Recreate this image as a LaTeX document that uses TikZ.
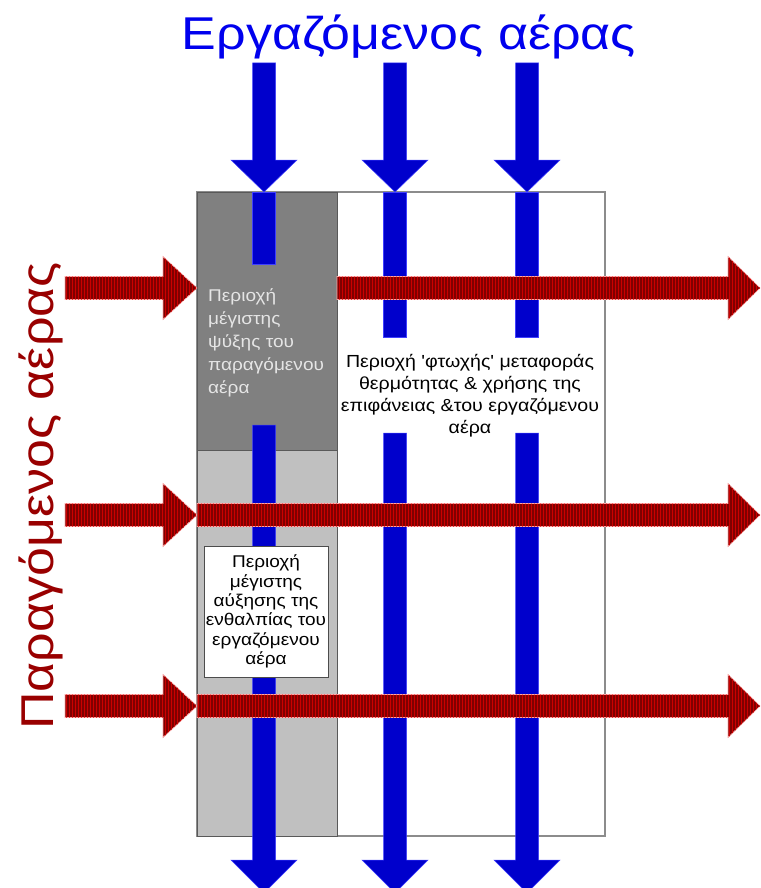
\documentclass[tikz,border=0pt]{standalone}
\usepackage{fontspec}
\setmainfont{Liberation Sans}
\newfontfamily\widesans[FakeStretch=1.12]{Liberation Sans}
\newfontfamily\titlesans[FakeStretch=1.13]{Liberation Sans}
\usetikzlibrary{patterns}
\font\rawarial="Liberation Sans:extend=1.12" at 17.5pt
\definecolor{ablue}{HTML}{0000CC}
\definecolor{tblue}{HTML}{0000EE}
\definecolor{ared}{HTML}{800000}
\definecolor{tred}{HTML}{990000}
\definecolor{dgrey}{HTML}{808080}
\definecolor{lgrey}{HTML}{C0C0C0}
\tikzset{
  bluearrow/.style={fill=ablue, draw=blue!75, line width=0.5pt},
  redarrow/.style={fill=ared, draw=red!35, line width=0.6pt,
    postaction={pattern=vertical lines, pattern color=red!80!black}},
  regionbox/.style={draw=black!65, line width=0.8pt},
  bigtitle/.style={font=\titlesans\fontsize{46}{50}\selectfont, inner sep=0pt},
  smalltext/.style={inner sep=0pt},
}
\newcommand\vArrowShape[4]{%
  \path[bluearrow] ({#1-11.5},#2) -- ({#1+11.5},#2) -- ({#1+11.5},#3) -- ({#1+33},#3)
    -- (#1,#4) -- ({#1-33},#3) -- ({#1-11.5},#3) -- cycle;}
\newcommand\vShaft[3]{%
  \path[bluearrow] ({#1-11.5},#2) rectangle ({#1+11.5},#3);}
\newcommand\hArrowShape[4]{%
  \path[redarrow] (#2,{#1-11.5}) -- (#3,{#1-11.5}) -- (#3,{#1-31.5}) -- (#4,#1)
    -- (#3,{#1+31.5}) -- (#3,{#1+11.5}) -- (#2,{#1+11.5}) -- cycle;}
\begin{document}
\begin{tikzpicture}[x=1pt,y=-1pt]
\useasboundingbox (0,0) rectangle (760,888);
\fill[white] (0,0) rectangle (760,888);
% regions
\path[draw=black!45, line width=1.5pt, fill=white] (197,192) rectangle (605,836);
\path[regionbox, fill=lgrey] (197,450) rectangle (337,836);
\path[regionbox, fill=dgrey] (197,192) rectangle (337,450);
% region texts
\node[smalltext, anchor=north west, align=left, text=black!10,
      font=\widesans\fontsize{17}{23}\selectfont] (cool) at (208,288)
  {Περιοχή\\μέγιστης\\ψύξης του\\παραγόμενου\\αέρα};
\node[smalltext, anchor=north, align=center,
      font=\widesans\fontsize{17.5}{22}\selectfont] (poor) at (470,354)
  {Περιοχή {\rawarial'}φτωχής{\rawarial'} μεταφοράς\\θερμότητας \& χρήσης της\\επιφάνειας \&του εργαζόμενου\\αέρα};
% blue arrows (working air)
\vArrowShape{264}{63}{160}{192}
\vArrowShape{395}{63}{160}{192}
\vArrowShape{527}{63}{160}{192}
\vShaft{264}{192}{264}
\vShaft{395}{192}{337}
\vShaft{527}{192}{337}
\vArrowShape{264}{425}{860}{893}
\vArrowShape{395}{433}{860}{893}
\vArrowShape{527}{433}{860}{893}
% red arrows (produced air)
\hArrowShape{288}{65}{163}{197}
\hArrowShape{288}{337}{728}{760}
\hArrowShape{515}{65}{163}{197}
\hArrowShape{515}{197}{728}{760}
\hArrowShape{706}{65}{163}{197}
\hArrowShape{706}{197}{728}{760}
% enthalpy box
\node[draw=black!70, line width=0.8pt, fill=white, minimum width=124pt, minimum height=131pt,
      inner sep=0pt, align=center, font=\widesans\fontsize{17}{19.3}\selectfont] (enth) at (266,611.5)
  {Περιοχή\\μέγιστης\\αύξησης της\\ενθαλπίας του\\εργαζόμενου\\αέρα};
% titles
\node[bigtitle, text=tblue, anchor=base] (work) at (409,50) {Εργαζόμενος αέρας};
\node[bigtitle, text=tred, anchor=base, rotate=90] (prod) at (53,496) {Παραγόμενος αέρας};
\end{tikzpicture}
\end{document}
